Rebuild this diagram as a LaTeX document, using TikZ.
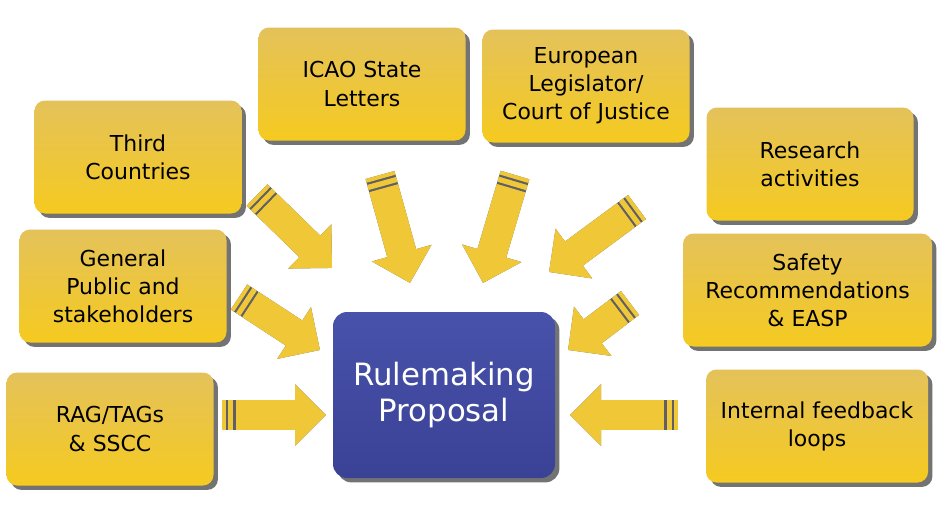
\documentclass[tikz,border=0pt]{standalone}
\usepackage{fontspec}
\setmainfont{DejaVu Sans}
\usepackage{tikz}
\usetikzlibrary{arrows.meta, shadows}
\definecolor{boxtop}{RGB}{228,194,90}
\definecolor{boxbot}{RGB}{245,202,32}
\definecolor{arryel}{RGB}{240,200,55}
\definecolor{arrshd}{RGB}{95,95,100}
\definecolor{bluetop}{RGB}{72,82,170}
\definecolor{bluebot}{RGB}{58,66,150}
\tikzset{
  srcbox/.style={rectangle, top color=boxtop, bottom color=boxbot, draw=none,
    minimum width=4.14cm, minimum height=2.26cm, align=center,
    rounded corners=6pt, font=\fontsize{12.5}{16}\selectfont,
    drop shadow={shadow xshift=2.5pt, shadow yshift=-2.5pt, fill=black, opacity=0.55}},
  propbox/.style={rectangle, top color=bluetop, bottom color=bluebot, draw=none,
    minimum width=4.44cm, minimum height=3.32cm, align=center, text=white,
    rounded corners=8pt, font=\fontsize{17.5}{21}\selectfont,
    drop shadow={shadow xshift=2.5pt, shadow yshift=-2.5pt, fill=black, opacity=0.55}},
  fatshadow/.style={line width=0.6cm, color=arrshd, shift={(1.6pt,-1.6pt)},
    -{Triangle[length=0.62cm, width=1.2cm]}},
  fatarrow/.style={line width=0.6cm, color=arryel,
    dash pattern=on 2.2pt off 1.3pt on 3pt off 1.3pt on 300pt,
    -{Triangle[length=0.62cm, width=1.2cm]}}
}

\begin{document}
\begin{tikzpicture}
  \useasboundingbox (0,0) rectangle (18.94,-10.24);

  % source boxes
  \node[srcbox] (third) at (2.76,-3.14) {Third\\Countries};
  \node[srcbox] (icao) at (7.24,-1.68) {ICAO State\\Letters};
  \node[srcbox] (euro) at (11.72,-1.72) {European\\Legislator/\\Court of Justice};
  \node[srcbox] (research) at (16.2,-3.28) {Research\\activities};
  \node[srcbox] (public) at (2.46,-5.72) {General\\Public and\\stakeholders};
  \node[srcbox, minimum width=4.98cm] (safety) at (16.15,-5.8) {Safety\\Recommendations\\\& EASP};
  \node[srcbox] (rag) at (2.2,-8.58) {RAG/TAGs\\\& SSCC};
  \node[srcbox, minimum width=4.44cm] (internal) at (16.34,-8.52) {Internal feedback\\loops};

  % target
  \node[propbox] (rule) at (8.88,-7.9) {Rulemaking\\Proposal};

  % arrow ends
  \coordinate (s1) at (5.14,-3.9);   \coordinate (e1) at (6.64,-5.36);
  \coordinate (s2) at (7.6,-3.5);    \coordinate (e2) at (8.2,-5.66);
  \coordinate (s3) at (10.3,-3.5);   \coordinate (e3) at (9.66,-5.66);
  \coordinate (s4) at (12.74,-4.14); \coordinate (e4) at (10.98,-5.44);
  \coordinate (s5) at (4.78,-5.94);  \coordinate (e5) at (6.4,-7.0);
  \coordinate (s6) at (12.6,-6.06);  \coordinate (e6) at (11.36,-7.0);
  \coordinate (s7) at (4.44,-8.3);   \coordinate (e7) at (6.52,-8.3);
  \coordinate (s8) at (13.56,-8.3);  \coordinate (e8) at (11.4,-8.3);

  \foreach \i in {1,...,8}{
    \draw[fatshadow] (s\i) -- (e\i);
    \draw[fatarrow] (s\i) -- (e\i);
  }
\end{tikzpicture}
\end{document}
